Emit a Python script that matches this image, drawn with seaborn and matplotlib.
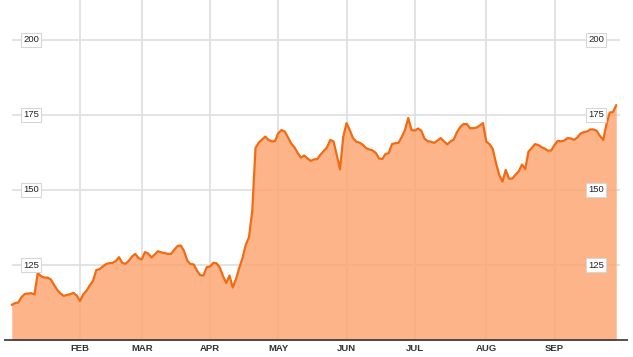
import numpy as np
import pandas as pd
import matplotlib
matplotlib.use("Agg")
import matplotlib.pyplot as plt
import matplotlib.transforms as mtransforms
import seaborn as sns

# ---- data (daily closes, grouped by month) ----
jan = [111.7, 112.3, 112.5, 114.3, 115.3, 115.5, 115.6, 115.2, 122.3, 121.3, 120.8,
       120.8, 120.2, 118.4, 116.7, 115.5, 114.7, 115.0, 115.3, 115.7, 114.8]
feb = [113.0, 115.2, 116.4, 118.2, 119.7, 123.3, 123.6, 124.5, 125.3, 125.6, 125.7,
       126.3, 127.6, 125.7, 125.4, 126.4, 127.8, 128.7, 127.3]
mar = [126.9, 129.3, 128.8, 127.5, 128.5, 129.6, 129.2, 129.0, 128.7, 128.7, 130.1,
       131.3, 131.5, 129.7, 126.5, 125.3, 125.2, 123.1, 121.6, 121.5, 124.3]
apr = [124.5, 125.7, 125.6, 124.2, 121.3, 119.0, 121.5, 117.5, 120.3, 124.0, 127.3,
       131.7, 134.3, 143.0, 164.0, 165.8, 166.8, 167.8, 166.7, 166.2, 166.3]
may = [168.9, 170.0, 169.5, 167.5, 165.5, 164.2, 162.3, 160.8, 161.5, 160.5, 159.7,
       160.2, 160.3, 161.8, 163.0, 164.2, 166.7, 166.2, 161.7, 156.9, 167.7]
jun = [172.3, 170.0, 167.3, 166.1, 165.8, 165.1, 164.0, 163.5, 163.2, 162.4, 160.5,
       160.3, 162.0, 162.3, 165.3, 165.6, 165.7, 167.7, 170.0, 174.0, 170.0]
jul = [169.8, 170.5, 169.8, 167.1, 166.3, 166.1, 165.7, 166.5, 167.3, 166.2, 165.2,
       166.2, 166.8, 169.3, 171.0, 172.0, 172.0, 170.6, 170.6, 170.8, 171.5, 172.3]
aug = [166.2, 165.3, 163.7, 159.0, 155.0, 152.8, 156.7, 153.8, 153.8, 155.1, 156.2,
       158.5, 157.0, 162.8, 164.0, 165.3, 165.0, 164.3, 163.8, 163.1, 163.2]
sep = [165.0, 166.4, 166.2, 166.5, 167.3, 167.2, 166.7, 167.5, 168.8, 169.3, 169.5,
       170.2, 170.2, 169.7, 168.0, 166.7, 172.0, 175.8, 176.0, 178.3]

months = [jan, feb, mar, apr, may, jun, jul, aug, sep]
month_labels = ["FEB", "MAR", "APR", "MAY", "JUN", "JUL", "AUG", "SEP"]
ytick_values = [125, 150, 175, 200]

values = [v for m in months for v in m]
df = pd.DataFrame({"day": np.arange(len(values)), "price": values})
month_starts = np.cumsum([len(m) for m in months])[:-1]

# ---- style ----
sns.set_style("white")
plt.rcParams["font.family"] = ["Liberation Sans", "DejaVu Sans"]

W, H = 633, 357
fig = plt.figure(figsize=(W / 100, H / 100), dpi=100)
ax = fig.add_axes([0, 17 / H, 1, 340 / H])

px_per_day = 3.25
x0 = 11.75  # pixel of first day


def px2day(p):
    return (p - x0) / px_per_day


ax.set_xlim(px2day(0), px2day(W))
ax.set_ylim(100, 100 + 340 / 3)

grid_col = "#e0e0e0"
# vertical grid
for s in month_starts:
    ax.axvline(s, color=grid_col, lw=1.3, zorder=1)
# horizontal grid
ax.hlines(ytick_values, px2day(12), px2day(620), color=grid_col, lw=1.3, zorder=1)

# area + line
ax.fill_between(df["day"], df["price"], 100, color="#fca874", alpha=0.86,
                lw=0, zorder=2)
sns.lineplot(data=df, x="day", y="price", ax=ax, color="#f26a12", lw=1.6,
             zorder=3)

# bottom axis line
ax.hlines(100, px2day(4), px2day(628), color="#333333", lw=1.2, zorder=4,
          clip_on=False)

for sp in ax.spines.values():
    sp.set_visible(False)

ax.set_xticks(month_starts)
ax.set_xticklabels(month_labels, fontsize=6.8, fontweight="bold", color="#333333")
ax.tick_params(axis="x", length=0, pad=3)
ax.set_yticks([])
ax.set_xlabel("")
ax.set_ylabel("")

trans = mtransforms.blended_transform_factory(ax.transAxes, ax.transData)
box = dict(boxstyle="square,pad=0.25", fc="white", ec="#d6d6d6", lw=0.8)
for v in ytick_values:
    for xf in (31 / W, 596 / W):
        ax.text(xf, v, str(v), transform=trans, ha="center", va="center",
                fontsize=6.8, color="#222222", bbox=box, zorder=5)

fig.savefig("out.png", dpi=100)
